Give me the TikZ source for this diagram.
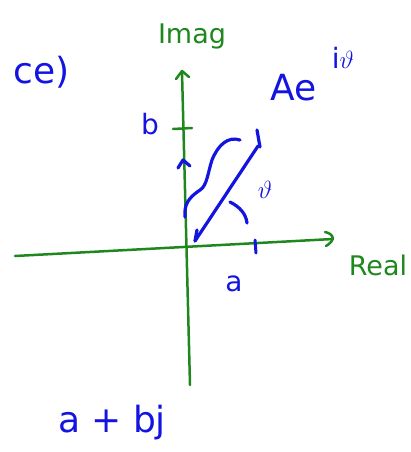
\documentclass[tikz,border=0pt]{standalone}
\usepackage{fontspec}
\setmainfont{DejaVu Sans}
\definecolor{pen}{RGB}{20,20,225}
\definecolor{ax}{RGB}{30,135,30}
\begin{document}
\begin{tikzpicture}[x=1pt,y=-1pt, line cap=round, line join=round,
  axis/.style={draw=ax, line width=2.5pt},
  ink/.style={draw=pen, line width=3.2pt},
  gtxt/.style={text=ax, inner sep=0pt, font=\fontsize{27}{29}\selectfont},
  btxt/.style={text=pen, inner sep=0pt, font=\fontsize{36}{38}\selectfont}]
\useasboundingbox (0,0) rectangle (411,452);
% axes
\coordinate (top) at (182,72);
\coordinate (bot) at (190,385);
\coordinate (left) at (15,256);
\coordinate (right) at (333,239);
\coordinate (origin) at (187,246);
\draw[axis] (bot) -- (top);
\draw[axis] (176,79) -- (182,71) -- (189,77);
\draw[axis] (left) -- (right);
\draw[axis] (325,232) .. controls (334,234) and (336,240) .. (326,246);
% ticks
\draw[axis] (173,129) -- (192,128);
\draw[pen, line width=3pt] (255,240) -- (256,253);
% labels
\node[gtxt] (imag) at (192,36) {Imag};
\node[gtxt] (real) at (378,265) {Real};
\node[btxt, font=\fontsize{28}{30}\selectfont] (b) at (150,124) {b};
\node[btxt, font=\fontsize{28}{30}\selectfont] (a) at (234,284) {a};
\node[btxt] (Ae) at (294,88) {Ae};
\node[btxt, font=\fontsize{28}{30}\selectfont] (exp) at (343,58) {i$\vartheta$};
\node[btxt, anchor=east] (ce) at (70,72) {ce)};
\node[btxt] (abj) at (112,423) {a + bj};
\node[btxt, font=\fontsize{26}{28}\selectfont] (theta) at (265,190) {$\vartheta$};
% vector
\coordinate (vtail) at (195,241);
\coordinate (vhead) at (258,146);
\draw[ink] (vtail) -- (vhead);
\draw[ink] (257,130) -- (260,147);
\draw[ink] (195,241) -- (197,230);
% brace
\draw[ink] (185,217) .. controls (184,205) and (188,198) .. (200,190)
  .. controls (207,186) and (208,172) .. (212,160)
  .. controls (218,145) and (228,136) .. (240,140);
% small mark on imag axis
\draw[ink] (178,168) -- (183,160) -- (190,166);
% angle arc
\draw[ink] (230,202) .. controls (240,207) and (246,214) .. (247,223);
\end{tikzpicture}
\end{document}
